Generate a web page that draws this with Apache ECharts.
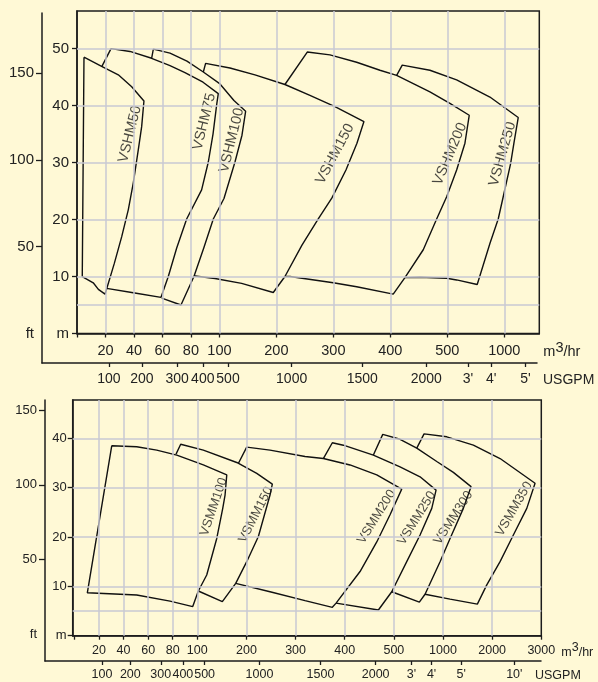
<!DOCTYPE html>
<html><head><meta charset="utf-8">
<script src="https://cdn.jsdelivr.net/npm/echarts@6/dist/echarts.min.js"></script>
<style>html,body{margin:0;padding:0;background:#fff9d6;}#c{width:598px;height:682px;}</style>
</head><body><div id="c"></div>
<script>
// ---- flow scale: break values (m3/hr) and their evenly spaced slots on the printed axis
const flowBreaks = [0,20,40,60,80,100,200,300,400,500,1000,2000,3000];
const slotBreaks = [0,1,2,3,4,5,7,9,11,13,15,17,19];
// ---- tick labels
const topFlowTicks = [20,40,60,80,100,200,300,400,500,1000];
const botFlowTicks = [20,40,60,80,100,200,300,400,500,1000,2000,3000];
const gpmLabels = ['100','200','300','400','500','1000','1500','2000',"3'","4'","5'","10'"];
const gpmAtFlow = [22.4,45.5,70.3,88.3,115,226.7,350.7,463,680,884,1372,2452];
const topHeadTicks = [0,10,20,30,40,50];
const topGridHeads = [5,10,20,30,40,50];
const botHeadTicks = [0,10,20,30,40];
const botGridHeads = [5,10,20,30,40];
const ftTicks = [50,100,150];
const ftLabels = [0,50,100,150];

// ---- upper chart: VSHM envelopes [flow m3/hr, head m]
const VSHM50 = [[4.9,48.5],[17.3,46.9],[29,45.4],[38.4,43.3],[47,40.8],[45.4,36.3],[43,32.2],[39.5,26.4],[36,21.7],[31.4,17],[26.2,12.3],[19.7,6.9],[15,7.75],[11.4,8.9],[3.7,10],[4.9,48.5]];
const VSHM75 = [[17.3,46.8],[23.9,50],[37.2,49.5],[52.4,48.3],[65.3,47],[75.8,45.8],[88.5,44.1],[99.2,42.1],[98.1,40.2],[95.5,35],[92.2,30.1],[87.5,25.2],[77,20.1],[70,15],[64.1,10],[59,6.35],[39.5,7.16],[20.8,7.93]];
const VSHM100 = [[52.4,48.3],[53.6,49.9],[65.3,49.2],[77.2,47.8],[88.7,45.9],[101,43.8],[125.5,40.9],[146,39],[139.6,34.8],[127.3,30.1],[108,23.7],[95.7,20.1],[89,15],[82.1,10],[73,5],[59.5,6.2]];
const VSHM150 = [[88.7,45.9],[90.3,47.4],[118.5,46.6],[162.4,45.4],[215,43.7],[258.9,41.8],[302.8,39.8],[353.7,37.2],[341.4,33.4],[322.1,28.7],[297.5,23.8],[273.5,20.1],[244.9,15.5],[215,10],[194.5,7.2],[139,8.8],[96.9,9.65],[82.8,10.1]];
const VSHM200 = [[215,43.7],[254.2,49.4],[294,48.9],[340.9,47.6],[381.8,46.2],[411.1,45.3],[469.5,42.4],[523,40.4],[692.5,38.3],[654.8,33.4],[582,28.7],[498.9,24],[481.3,20.1],[457.8,14.7],[425.6,9.8],[405.1,6.9],[340.9,8.2],[299.8,8.9],[223.8,10],[215,10]];
const VSHM250 = [[411.1,45.3],[420.9,47.1],[469.5,46.2],[581.8,44.5],[874,41.5],[1245,37.9],[1169.5,33.4],[1111.5,29.8],[990.8,24],[947,20.1],[874,15.8],[762.5,8.6],[581.8,9.4],[498.9,9.7],[452,9.86],[425.6,9.8]];
const topNames = ['VSHM50','VSHM75','VSHM100','VSHM150','VSHM200','VSHM250'];
const topLabelAt = [[37.2,35],[89.4,37.2],[121.5,33.9],[302.8,31.5],[523.5,31.5],[985,31.5]];
const topLabelAngle = [76,76,76,62,67,74];

// ---- lower chart: VSMM envelopes [flow m3/hr, head m]
const VSMM100 = [[30.4,38.5],[50.7,38.3],[67,37.6],[83.3,36.6],[112.3,34.6],[160,32.6],[156.5,28.5],[151.8,25.8],[139.6,19.7],[119.2,12.3],[102.1,9.06],[96.3,5.9],[77.8,7],[50.7,8.25],[10.5,8.7],[30.4,38.5]];
const VSMM150 = [[82.7,36.8],[86.5,38.8],[112.3,37.6],[180.3,35.1],[221,32.9],[252.7,30.7],[248,28.5],[224.3,20.1],[200.6,15],[178.2,10.6],[151,6.9],[102.1,9.06]];
const VSMM200 = [[183.5,34.9],[200.6,38.2],[248,37.6],[319.3,36.3],[356.5,35.9],[410.8,34.6],[465.2,32.6],[580,29.7],[492.2,24.5],[465.2,19],[431.2,13],[382.4,6.6],[374.8,5.75],[319.3,7.1],[248,8.9],[178.2,10.6]];
const VSMM250 = [[356.5,35.9],[374.8,39.1],[397.2,38.6],[458.3,36.6],[563,34.2],[766.5,32.2],[929.3,29.5],[885.5,25.8],[766.5,20.4],[631,15],[495.7,8.9],[468.5,5.2],[382.4,6.6]];
const VSMM300 = [[458.3,36.6],[477.4,40.8],[563,39.8],[733,38],[936.5,35.3],[1210.5,33.1],[1570.5,30.2],[1414,25.8],[1143.5,19.7],[970,15],[817.3,8.4],[759.3,6.8],[495.7,8.9]];
const VSMM350 = [[733,38],[807.3,40.9],[1076.5,40.3],[1617.5,38.6],[2161,35.9],[2873,30.9],[2704.5,25.8],[2431.5,20.4],[2161,15],[1890.5,10.3],[1699,6.4],[1143.5,7.4],[817.3,8.4]];
const botNames = ['VSMM100','VSMM150','VSMM200','VSMM250','VSMM300','VSMM350'];
const botLabelAt = [[133.5,26.1],[219,24.5],[465,24.1],[733,23.8],[1210.5,23.9],[2446,25.7]];
const botLabelAngle = [71,63,58,58,57,60];

// ---------------------------------------------------------------
function fx(q){
  for (let i=0;i<flowBreaks.length-1;i++){
    const a=flowBreaks[i], b=flowBreaks[i+1];
    if (q<=b || i===flowBreaks.length-2){
      return slotBreaks[i]+(slotBreaks[i+1]-slotBreaks[i])*(q-a)/(b-a);
    }
  }
}
function labelMap(vals, labs){
  const m={}; vals.forEach((v,i)=>{m[fx(v).toFixed(3)]=labs[i];}); return m;
}
const INK='#1c1c1c', GRID='#c9c9d3', FONT='"Liberation Sans", Arial, Helvetica, sans-serif';
const axisLineS={show:true,onZero:false,lineStyle:{color:INK,width:1.5}};

const topXMap=labelMap(topFlowTicks, topFlowTicks.map(String));
const botXMap=labelMap(botFlowTicks, botFlowTicks.map(String));
const gpmTop=gpmAtFlow.slice(0,11), gpmBot=gpmAtFlow.slice();
const gpmTopMap=labelMap(gpmTop, gpmLabels.slice(0,11));
const gpmBotMap=labelMap(gpmBot, gpmLabels);

function flowAxis(grid,min,max,ticks,map,fs,margin,nameGap,pad){
  return {type:'value',gridIndex:grid,min:min,max:max,
    axisLine:axisLineS,
    axisTick:{show:true,length:4,lineStyle:{color:INK,width:1.3},customValues:[0].concat(ticks.map(fx))},
    axisLabel:{show:true,customValues:ticks.map(fx),margin:margin,color:'#222',fontSize:fs,fontFamily:FONT,
      formatter:v=>map[Number(v).toFixed(3)]||''},
    splitLine:{show:false},
    name:'{a|m}{b|3}{a|/hr}',nameLocation:'end',nameGap:nameGap,
    nameTextStyle:{padding:[pad,0,0,0],rich:{
      a:{fontSize:fs,color:'#222',fontFamily:FONT,verticalAlign:'bottom',lineHeight:fs+5},
      b:{fontSize:fs,color:'#222',fontFamily:FONT,verticalAlign:'top',lineHeight:fs+5}}}
  };
}
function gpmAxis(grid,min,max,vals,map,fs,margin,nameGap,pad){
  return {type:'value',gridIndex:grid,min:min,max:max,
    axisLine:axisLineS,
    axisTick:{show:true,length:4,lineStyle:{color:INK,width:1.3},customValues:vals.map(fx)},
    axisLabel:{show:true,customValues:vals.map(fx),margin:margin,color:'#222',fontSize:fs,fontFamily:FONT,
      hideOverlap:false,formatter:v=>map[Number(v).toFixed(3)]||''},
    splitLine:{show:false},
    name:'{a|USGPM}',nameLocation:'end',nameGap:nameGap,
    nameTextStyle:{padding:[pad,0,0,0],rich:{
      a:{fontSize:fs,color:'#222',fontFamily:FONT,lineHeight:fs+2}}}
  };
}
function headAxis(grid,min,max,ticks,fs,margin){
  return {type:'value',gridIndex:grid,min:min,max:max,
    axisLine:axisLineS,
    axisTick:{show:true,length:5,lineStyle:{color:INK,width:1.3},customValues:ticks},
    axisLabel:{show:true,customValues:ticks,margin:margin,color:'#222',fontSize:fs,fontFamily:FONT,
      formatter:v=>(Number(v)===0?'m':String(v))},
    splitLine:{show:false}};
}
function ftAxis(grid,min,max,fs,margin){
  return {type:'value',gridIndex:grid,min:min,max:max,
    axisLine:axisLineS,
    axisTick:{show:true,length:6,lineStyle:{color:INK,width:1.3},customValues:ftTicks},
    axisLabel:{show:true,customValues:ftLabels,margin:margin,color:'#222',fontSize:fs,fontFamily:FONT,
      formatter:v=>(Number(v)===0?'ft':String(v))},
    splitLine:{show:false}};
}
function gridSeries(xi,flows,heads){
  return {type:'line',xAxisIndex:xi,yAxisIndex:xi,data:[],silent:true,z:1,
    markLine:{silent:true,symbol:['none','none'],animation:false,label:{show:false},
      lineStyle:{color:GRID,width:1.5,type:'solid'},emphasis:{disabled:true},
      data:flows.map(q=>({xAxis:fx(q)})).concat(heads.map(h=>({yAxis:h})))}};
}
function pumpSeries(xi,name,pts){
  return {type:'line',name:name,xAxisIndex:xi,yAxisIndex:xi,silent:true,z:3,
    symbol:'none',showSymbol:false,lineStyle:{color:'#111',width:1.4},
    data:pts.map(p=>[fx(p[0]),p[1]])};
}
function labelSeries(xi,names,at,angles,fs){
  return {type:'scatter',xAxisIndex:xi,yAxisIndex:xi,silent:true,z:4,symbolSize:1,
    itemStyle:{color:'rgba(0,0,0,0)'},
    data:names.map((n,i)=>({name:n,value:[fx(at[i][0]),at[i][1]],
      label:{show:true,position:'inside',rotate:angles[i],formatter:n,color:'#1a1a1a',fontSize:fs,fontFamily:FONT}}))};
}

const option={
  backgroundColor:'#fff9d6',
  animation:false,
  grid:[
    {left:77,top:11,width:462.3,height:322.5,show:true,borderColor:INK,borderWidth:1.5,backgroundColor:'transparent'},
    {left:42,top:13,width:495,height:350},
    {left:72.7,top:400,width:468.6,height:235.7,show:true,borderColor:INK,borderWidth:1.5,backgroundColor:'transparent'},
    {left:45,top:400,width:496,height:262.3}
  ],
  xAxis:[
    flowAxis(0,0,16.23,topFlowTicks,topXMap,14.5,10,4,33),
    gpmAxis(1,-1.229,16.146,gpmTop,gpmTopMap,14,9,6,34),
    flowAxis(2,-0.07,19,botFlowTicks,botXMap,12.5,8.5,20,29),
    gpmAxis(3,-1.197,18.99,gpmBot,gpmBotMap,12.5,7,-6,29)
  ],
  yAxis:[
    headAxis(0,0,56.6,topHeadTicks,15,8),
    ftAxis(1,-17,184.5,15,8),
    headAxis(2,0,47.76,botHeadTicks,13,6),
    ftAxis(3,-17.7,156.7,13,8)
  ],
  series:[
    gridSeries(0,topFlowTicks,topGridHeads),
    gridSeries(2,botFlowTicks.slice(0,11),botGridHeads),
    pumpSeries(0,'VSHM50',VSHM50),pumpSeries(0,'VSHM75',VSHM75),pumpSeries(0,'VSHM100',VSHM100),
    pumpSeries(0,'VSHM150',VSHM150),pumpSeries(0,'VSHM200',VSHM200),pumpSeries(0,'VSHM250',VSHM250),
    pumpSeries(2,'VSMM100',VSMM100),pumpSeries(2,'VSMM150',VSMM150),pumpSeries(2,'VSMM200',VSMM200),
    pumpSeries(2,'VSMM250',VSMM250),pumpSeries(2,'VSMM300',VSMM300),pumpSeries(2,'VSMM350',VSMM350),
    labelSeries(0,topNames,topLabelAt,topLabelAngle,14.5),
    labelSeries(2,botNames,botLabelAt,botLabelAngle,13)
  ]
};
const chart=echarts.init(document.getElementById('c'),null,{renderer:'canvas'});
chart.setOption(option);
</script></body></html>
